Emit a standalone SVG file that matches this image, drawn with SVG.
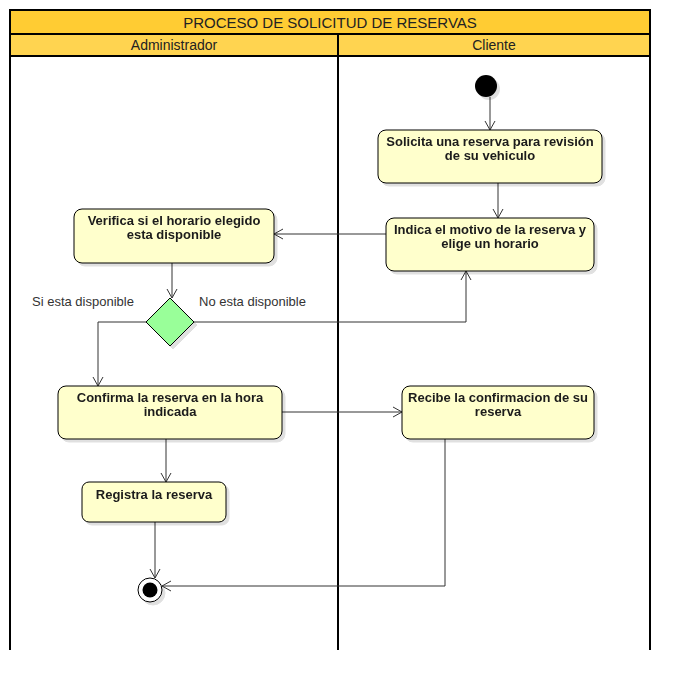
<svg xmlns="http://www.w3.org/2000/svg" width="690" height="690" viewBox="0 0 690 690">
<defs>
<marker id="arr" markerWidth="12" markerHeight="12" refX="10" refY="6" orient="auto" markerUnits="userSpaceOnUse">
<path d="M1,1 L10,6 L1,11" fill="none" stroke="#333" stroke-width="1"/>
</marker>
<filter id="sh" x="-10%" y="-10%" width="130%" height="140%">
<feOffset in="SourceAlpha" dx="3" dy="3" result="o"/>
<feFlood flood-color="#000" flood-opacity="0.12"/>
<feComposite in2="o" operator="in" result="s"/>
<feMerge><feMergeNode in="s"/><feMergeNode in="SourceGraphic"/></feMerge>
</filter>
</defs>
<style>
.node{fill:#FFFFCC;stroke:#000;stroke-width:1}
.nt{font-family:"Liberation Sans",Arial,sans-serif;font-size:13px;font-weight:bold;fill:#1a1a1a;text-anchor:middle}
.lbl{font-family:"Liberation Sans",Arial,sans-serif;font-size:13px;fill:#333}
.hd{font-family:"Liberation Sans",Arial,sans-serif;font-size:14px;fill:#222;text-anchor:middle}
.conn{fill:none;stroke:#333;stroke-width:1;marker-end:url(#arr)}
</style>
<rect width="690" height="690" fill="#fff"/>
<g id="pool">
<rect x="10" y="10" width="640" height="24" fill="#FFCC33" stroke="#000" stroke-width="2"/>
<text class="hd" x="330" y="28" style="font-size:15px">PROCESO DE SOLICITUD DE RESERVAS</text>
<rect x="10" y="34" width="328" height="22" fill="#FFD450" stroke="#000" stroke-width="2"/>
<rect x="338" y="34" width="312" height="22" fill="#FFD450" stroke="#000" stroke-width="2"/>
<text class="hd" x="174" y="50">Administrador</text>
<text class="hd" x="494" y="50">Cliente</text>
<line x1="10" y1="56" x2="10" y2="650" stroke="#000" stroke-width="2"/>
<line x1="338" y1="56" x2="338" y2="650" stroke="#000" stroke-width="2"/>
<line x1="650" y1="56" x2="650" y2="650" stroke="#000" stroke-width="2"/>
</g>
<g id="connectors">
<path class="conn" d="M490,97 L490,130"/>
<path class="conn" d="M498,183 L498,218"/>
<path class="conn" d="M386,234 L274,234"/>
<path class="conn" d="M172,263 L172,298"/>
<path class="conn" d="M146,322 L98,322 L98,386"/>
<path class="conn" d="M194,322 L466,322 L466,271"/>
<path class="conn" d="M282,412 L402,412"/>
<path class="conn" d="M166,439 L166,482"/>
<path class="conn" d="M155,522 L155,578"/>
<path class="conn" d="M445,439 L445,586 L162,586"/>
<text class="lbl" x="32" y="306">Si esta disponible</text>
<text class="lbl" x="199" y="306">No esta disponible</text>
</g>
<g id="start"><circle cx="486" cy="86" r="11" fill="#000" filter="url(#sh)"/></g>
<g id="n1" filter="url(#sh)"><rect class="node" x="378" y="130" width="224" height="53" rx="8"/>
<text class="nt" x="490" y="146">Solicita una reserva para revisión</text><text class="nt" x="490" y="160">de su vehiculo</text></g>
<g id="n2" filter="url(#sh)"><rect class="node" x="386" y="218" width="208" height="53" rx="8"/>
<text class="nt" x="490" y="234">Indica el motivo de la reserva y</text><text class="nt" x="490" y="248">elige un horario</text></g>
<g id="n3" filter="url(#sh)"><rect class="node" x="74" y="209" width="200" height="54" rx="8"/>
<text class="nt" x="174" y="225">Verifica si el horario elegido</text><text class="nt" x="174" y="239">esta disponible</text></g>
<g id="dec" filter="url(#sh)"><path d="M170,298 L194,322 L170,346 L146,322 Z" fill="#99FF99" stroke="#000" stroke-width="1"/></g>
<g id="n4" filter="url(#sh)"><rect class="node" x="58" y="386" width="224" height="53" rx="8"/>
<text class="nt" x="170" y="402">Confirma la reserva en la hora</text><text class="nt" x="170" y="416">indicada</text></g>
<g id="n5" filter="url(#sh)"><rect class="node" x="402" y="386" width="192" height="53" rx="8"/>
<text class="nt" x="498" y="402">Recibe la confirmacion de su</text><text class="nt" x="498" y="416">reserva</text></g>
<g id="n6" filter="url(#sh)"><rect class="node" x="82" y="482" width="144" height="40" rx="7"/>
<text class="nt" x="154" y="499">Registra la reserva</text></g>
<g id="end" filter="url(#sh)"><circle cx="150" cy="590" r="12" fill="#fff" stroke="#000" stroke-width="1"/><circle cx="150" cy="590" r="7.5" fill="#000"/></g>
</svg>
